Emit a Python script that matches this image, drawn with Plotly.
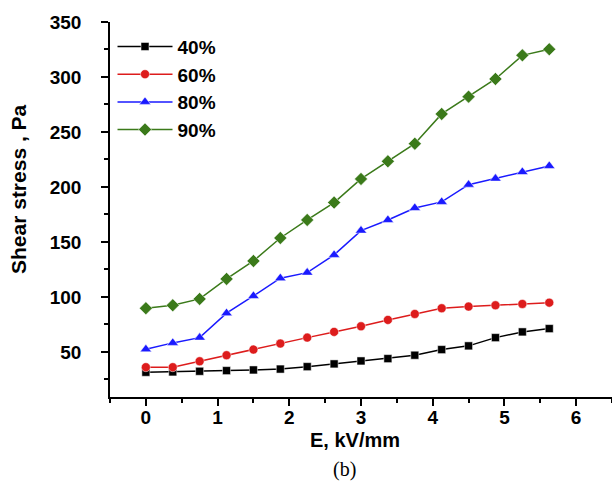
import plotly.graph_objects as go

E = [0, 0.375, 0.75, 1.125, 1.5, 1.875, 2.25, 2.625, 3.0, 3.375, 3.75, 4.125, 4.5, 4.875, 5.25, 5.625]
s40 = [31.5, 31.8, 32.4, 33.0, 33.6, 34.4, 36.6, 39.1, 41.8, 43.9, 47.0, 52.1, 55.5, 63.0, 68.2, 71.2]
s60 = [36.1, 36.1, 41.5, 47.0, 52.1, 57.6, 63.0, 68.2, 73.3, 79.1, 84.5, 89.7, 91.2, 92.4, 93.6, 94.8]
s80 = [52.4, 58.2, 63.0, 85.2, 100.9, 117.0, 122.1, 138.2, 160.3, 170.0, 180.9, 186.4, 202.1, 207.6, 213.6, 219.1]
s90 = [89.7, 92.4, 98.2, 116.4, 132.7, 153.6, 170.0, 185.8, 207.3, 223.3, 239.4, 266.4, 282.1, 298.2, 319.7, 325.2]
names = ["40%", "60%", "80%", "90%"]
colors = ["#000000", "#dd1c1c", "#1a1aff", "#3b7a1a"]
symbols = ["square", "circle", "triangle-up", "diamond"]
sizes = [8, 9, 10, 10]
xticks = [0, 1, 2, 3, 4, 5, 6]
yticks = [50, 100, 150, 200, 250, 300, 350]

fig = go.Figure()
for ys, n, c, sym, sz in zip([s40, s60, s80, s90], names, colors, symbols, sizes):
    fig.add_trace(go.Scatter(x=E, y=ys, name=f"<b>{n}</b>", mode="lines+markers",
                             line=dict(color=c, width=1.5),
                             marker=dict(symbol=sym, size=sz, color=c,
                                         line=dict(color="white", width=0.5))))

FAM = "Arial, Liberation Sans"
tfont = dict(family=FAM, size=19, color="black")
fig.update_layout(
    width=612, height=490,
    margin=dict(l=110, r=0, t=22, b=93),
    plot_bgcolor="white", paper_bgcolor="white",
    showlegend=True,
    legend=dict(x=0.005, y=0.985, xanchor="left", yanchor="top",
                font=dict(family=FAM, size=19, color="black"),
                itemwidth=55, bgcolor="rgba(0,0,0,0)", tracegroupgap=0),
    xaxis=dict(range=[-0.5, 6.5], tickvals=xticks, ticktext=[f"<b>{v}</b>" for v in xticks],
               showgrid=False, zeroline=False,
               showline=True, linecolor="black", linewidth=1.5,
               ticks="outside", ticklen=7, tickwidth=1.5, tickcolor="black",
               tickfont=tfont, ticklabelstandoff=-5,
               minor=dict(dtick=0.5, tick0=0, ticks="outside", ticklen=4, tickwidth=1.5, tickcolor="black")),
    yaxis=dict(range=[9, 350], tickvals=yticks, ticktext=[f"<b>{v}</b>" for v in yticks],
               showgrid=False, zeroline=False,
               showline=True, linecolor="black", linewidth=1.5,
               ticks="outside", ticklen=7, tickwidth=1.5, tickcolor="black",
               tickfont=tfont, ticklabelstandoff=16,
               minor=dict(dtick=25, tick0=0, ticks="outside", ticklen=4, tickwidth=1.5, tickcolor="black")),
)

fig.add_annotation(text="<b>Shear stress , Pa</b>", xref="paper", yref="paper",
                   x=(18 - 110) / 502, y=(397 - 189) / 375, textangle=-90, showarrow=False,
                   xanchor="center", yanchor="middle",
                   font=dict(family=FAM, size=21, color="black"))
fig.add_annotation(text="<b>E, kV/mm</b>", xref="paper", yref="paper",
                   x=(355 - 110) / 502, y=(397 - 440) / 375, showarrow=False,
                   xanchor="center", yanchor="middle",
                   font=dict(family=FAM, size=20, color="black"))
fig.add_annotation(text="(b)", xref="paper", yref="paper",
                   x=(344 - 110) / 502, y=(397 - 469) / 375, showarrow=False,
                   xanchor="center", yanchor="middle",
                   font=dict(family="Liberation Serif, Times New Roman", size=20, color="black"))

fig.write_html("out.html")
